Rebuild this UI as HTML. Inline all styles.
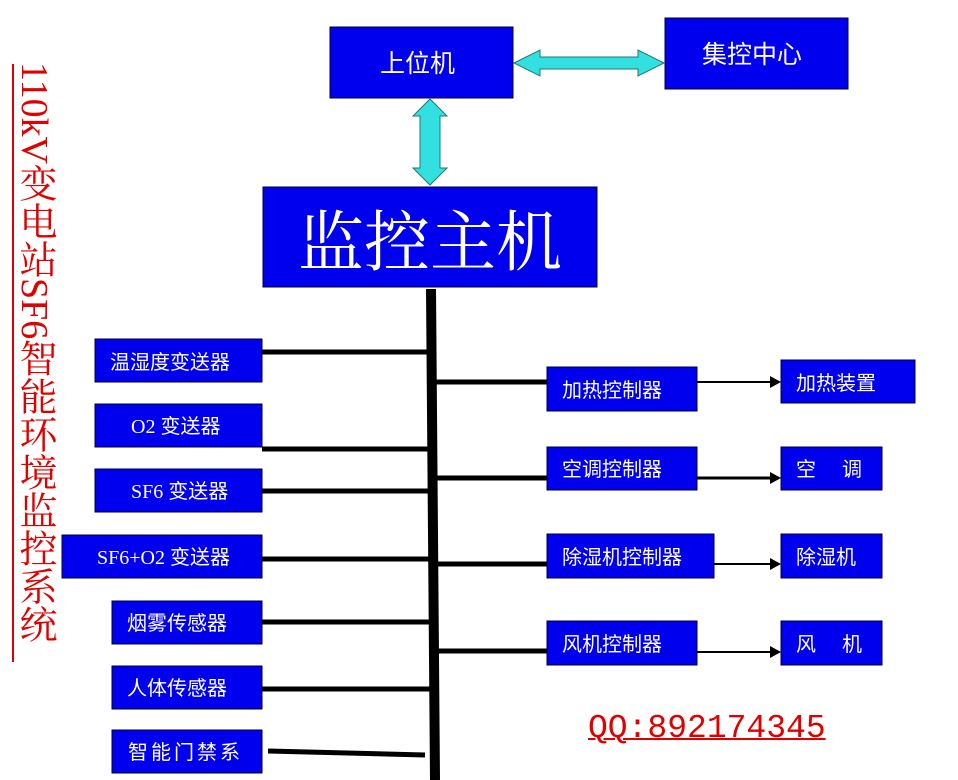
<!DOCTYPE html>
<html><head><meta charset="utf-8"><style>
html,body{margin:0;padding:0;background:#fff;width:958px;height:780px;overflow:hidden;position:relative}
.t{position:absolute;left:14px;top:62px;writing-mode:vertical-rl;font-family:"Liberation Serif","Noto Serif CJK SC",serif;font-size:38px;color:#e00000;line-height:40px;width:40px;letter-spacing:0}
.qq{position:absolute;left:588px;top:710px;font-family:"Liberation Mono","Noto Serif CJK SC",monospace;font-size:33px;color:#e00000;text-decoration:underline;text-decoration-thickness:2px}
svg{position:absolute;left:0;top:0}
</style></head><body>
<svg width="958" height="780" viewBox="0 0 958 780" font-family="'Liberation Serif','Noto Sans CJK SC',sans-serif">
<line x1="13" y1="64" x2="13" y2="662" stroke="#e00000" stroke-width="2"/>
<g fill="#0000ee" stroke="#000033" stroke-width="1">
<rect x="330" y="27" width="183" height="71"/>
<rect x="665" y="18" width="183" height="71"/>
<rect x="263" y="187" width="334" height="100"/>
<rect x="95" y="339" width="167" height="43"/>
<rect x="95" y="404" width="167" height="43"/>
<rect x="95" y="469" width="167" height="43"/>
<rect x="62" y="535" width="200" height="43"/>
<rect x="112" y="601" width="150" height="43"/>
<rect x="112" y="666" width="150" height="43"/>
<rect x="112" y="730" width="150" height="43"/>
<rect x="547" y="367" width="150" height="44"/>
<rect x="547" y="447" width="150" height="43"/>
<rect x="547" y="534" width="167" height="44"/>
<rect x="547" y="621" width="150" height="44"/>
<rect x="781" y="360" width="134" height="43"/>
<rect x="781" y="447" width="101" height="43"/>
<rect x="781" y="534" width="101" height="44"/>
<rect x="781" y="621" width="101" height="44"/>
</g>
<g fill="#33e0e0" stroke="#227777" stroke-width="1">
<polygon points="514,63 540,50 540,57 638,57 638,50 664,63 638,76 638,69 540,69 540,76"/>
<polygon points="430,99 447,116 440,116 440,168 447,168 430,185 413,168 420,168 420,116 413,116"/>
</g>
<g stroke="#000" fill="none">
<polygon points="426,289 436,289 440,780 430,780" fill="#000" stroke="none"/>
<g stroke-width="5">
<line x1="262" y1="352" x2="428" y2="352"/>
<line x1="262" y1="449" x2="429" y2="449"/>
<line x1="262" y1="491" x2="429" y2="491"/>
<line x1="262" y1="559" x2="430" y2="559"/>
<line x1="262" y1="622" x2="431" y2="622"/>
<line x1="262" y1="689" x2="431" y2="689"/>
<line x1="268" y1="751" x2="425" y2="755"/>
<line x1="432" y1="382" x2="547" y2="382"/>
<line x1="433" y1="478" x2="547" y2="478"/>
<line x1="434" y1="564" x2="547" y2="564"/>
<line x1="435" y1="651" x2="547" y2="651"/>
</g>
<line x1="697" y1="382" x2="770" y2="382" stroke-width="2"/>
<line x1="697" y1="478" x2="770" y2="478" stroke-width="3"/>
<line x1="714" y1="564" x2="770" y2="564" stroke-width="2"/>
<line x1="697" y1="652" x2="770" y2="652" stroke-width="2"/>
</g>
<g fill="#000">
<polygon points="770,376 781,382 770,388"/>
<polygon points="770,472 781,478 770,484"/>
<polygon points="770,558 781,564 770,570"/>
<polygon points="770,646 781,652 770,658"/>
</g>
<g fill="#fff" font-size="20">
<text x="380" y="72" font-size="25">上位机</text>
<text x="702" y="63" font-size="25">集控中心</text>
<text x="298" y="265" font-size="66" font-family="'Noto Serif CJK SC',serif">监控主机</text>
<text x="110" y="369">温湿度变送器</text>
<text x="131" y="433">O2 变送器</text>
<text x="131" y="498">SF6 变送器</text>
<text x="97" y="564">SF6+O2 变送器</text>
<text x="127" y="630">烟雾传感器</text>
<text x="127" y="695">人体传感器</text>
<text x="128" y="759" letter-spacing="3">智能门禁系</text>
<text x="562" y="397">加热控制器</text>
<text x="562" y="476">空调控制器</text>
<text x="562" y="564">除湿机控制器</text>
<text x="562" y="651">风机控制器</text>
<text x="796" y="390">加热装置</text>
<text x="796" y="476">空</text><text x="842" y="476">调</text>
<text x="796" y="564">除湿机</text>
<text x="796" y="651">风</text><text x="842" y="651">机</text>
</g>
</svg>
<div class="t">110kV变电站SF6智能环境监控系统</div>
<div class="qq">QQ:892174345</div>
</body></html>
